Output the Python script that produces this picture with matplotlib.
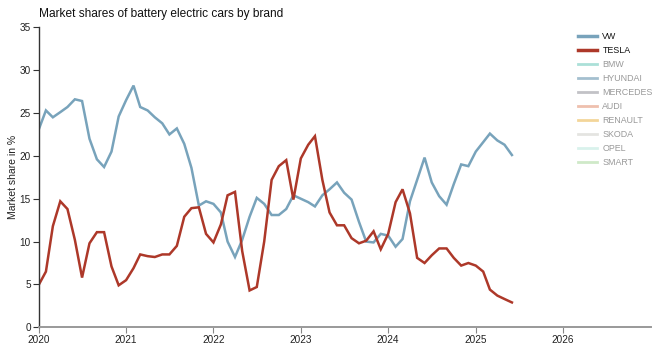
import matplotlib
matplotlib.use('Agg')
import matplotlib.pyplot as plt
import matplotlib.dates as mdates
from matplotlib.lines import Line2D
import pandas as pd

plt.rcParams['font.family'] = ['Liberation Sans', 'DejaVu Sans']

# monthly values, Jan 2020 - Jun 2025
months = pd.date_range('2020-01-01', periods=66, freq='MS')

vw = [23.0, 25.3, 24.5, 25.1, 25.7, 26.6, 26.4, 22.0, 19.6, 18.7, 20.5, 24.6,
      26.5, 28.2, 25.7, 25.3, 24.5, 23.8, 22.5, 23.2, 21.4, 18.6, 14.2, 14.7,
      14.4, 13.4, 10.0, 8.2, 10.2, 12.9, 15.1, 14.4, 13.1, 13.1, 13.8, 15.4,
      15.0, 14.6, 14.1, 15.4, 16.1, 16.9, 15.7, 14.9, 12.3, 10.0, 9.9, 10.9,
      10.7, 9.4, 10.3, 14.7, 17.2, 19.8, 16.9, 15.3, 14.3, 16.7, 19.0, 18.8,
      20.5, 21.6, 22.6, 21.8, 21.3, 20.1]

tesla = [4.9, 6.5, 11.8, 14.7, 13.8, 10.2, 5.8, 9.8, 11.1, 11.1, 7.1, 4.9,
         5.5, 6.9, 8.5, 8.3, 8.2, 8.5, 8.5, 9.5, 12.9, 13.9, 14.0, 10.9,
         9.9, 12.0, 15.4, 15.8, 8.9, 4.3, 4.7, 10.0, 17.2, 18.8, 19.5, 14.9,
         19.7, 21.3, 22.3, 17.2, 13.4, 11.9, 11.9, 10.4, 9.8, 10.1, 11.2, 9.1,
         10.9, 14.6, 16.1, 13.3, 8.1, 7.5, 8.4, 9.2, 9.2, 8.1, 7.2, 7.5,
         7.2, 6.5, 4.4, 3.7, 3.3, 2.9]

brands = ['VW', 'TESLA', 'BMW', 'HYUNDAI', 'MERCEDES', 'AUDI', 'RENAULT', 'SKODA', 'OPEL', 'SMART']
brand_colors = ['#78a3bb', '#ad3829', '#8fd6cc', '#86aabf', '#aeaeb4', '#e9ab93',
                '#f0c878', '#dcdcd8', '#cdeee6', '#bfe2b6']
active = ['VW', 'TESLA']

fig = plt.figure(figsize=(6.57, 3.5), dpi=100)
ax = fig.add_axes([38.5 / 657, 22.7 / 350, 612 / 657, 300 / 350])

ax.plot(months, vw, color=brand_colors[0], lw=1.8, solid_joinstyle='miter')
ax.plot(months, tesla, color=brand_colors[1], lw=1.8, solid_joinstyle='miter')

ax.set_xlim(pd.Timestamp('2020-01-01'), pd.Timestamp('2027-01-01'))
ax.set_ylim(0, 35)
ax.set_yticks(range(0, 36, 5))
ax.set_xticks([pd.Timestamp(f'{y}-01-01') for y in range(2020, 2027)])
ax.xaxis.set_major_formatter(mdates.DateFormatter('%Y'))

for s in ['top', 'right']:
    ax.spines[s].set_visible(False)
ax.spines['left'].set_color('#333333')
ax.spines['left'].set_linewidth(1)
ax.spines['bottom'].set_color('#999999')
ax.spines['bottom'].set_linewidth(1.4)
ax.tick_params(axis='y', length=4, width=0.8, color='#333333', labelsize=7.2,
               labelcolor='#222222', pad=1.5)
ax.tick_params(axis='x', length=4, width=0.8, color='#888888', labelsize=7.2,
               labelcolor='#222222', pad=1.5)

ax.set_ylabel('Market share in %', fontsize=7.5, color='#222222', labelpad=1)
fig.text(39 / 657, 1 - 14 / 350, 'Market shares of battery electric cars by brand',
         fontsize=8.6, color='#111111', va='center', ha='left')

handles = [Line2D([0], [0], color=c, lw=2.5 if b in active else 2.0,
                  alpha=1.0 if b in active else 0.75)
           for b, c in zip(brands, brand_colors)]
leg = ax.legend(handles, brands, loc='upper left', bbox_to_anchor=(578 / 657, 1 - 32 / 350),
                bbox_transform=fig.transFigure, frameon=False, fontsize=6.4,
                handlelength=2.15, handletextpad=0.6, labelspacing=0.56,
                borderaxespad=0, borderpad=0)
for t, b in zip(leg.get_texts(), brands):
    t.set_color('#111111' if b in active else '#999999')

fig.savefig('out.png', dpi=100)
